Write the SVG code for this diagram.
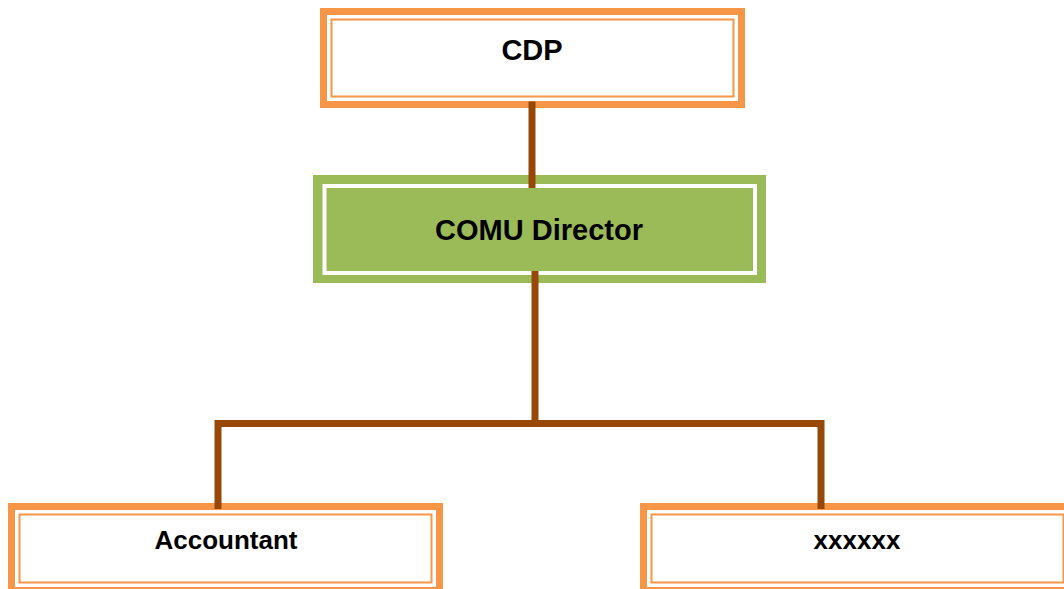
<svg xmlns="http://www.w3.org/2000/svg" width="1064" height="589" viewBox="0 0 1064 589">
<style>
.thick{fill:#FFFFFF;stroke:#F79646;stroke-width:7}
.thin{fill:none;stroke:#F79646;stroke-width:2}
.lbl{font-family:"Liberation Sans",Arial,sans-serif;font-weight:bold;fill:#000;text-anchor:middle}
.conn{fill:none;stroke:#974806;stroke-width:7;stroke-linejoin:miter;stroke-linecap:butt}
</style>
<rect width="1064" height="589" fill="#FFFFFF"/>
<g id="node-cdp">
<rect class="thick" x="323.5" y="11.5" width="418" height="93"/>
<rect class="thin" x="331.5" y="19.5" width="402" height="77"/>
<text class="lbl" x="532" y="60" font-size="29">CDP</text>
</g>
<g id="node-comu">
<rect x="313" y="175" width="453" height="108" fill="#9BBB59"/>
<rect x="324.5" y="186" width="430.5" height="87" fill="none" stroke="#FFFFFF" stroke-width="4"/>
<text class="lbl" x="539" y="240" font-size="29">COMU Director</text>
</g>
<g id="node-accountant">
<rect class="thick" x="11.5" y="506.5" width="428" height="84"/>
<rect class="thin" x="19.5" y="514.5" width="412" height="68"/>
<text class="lbl" x="226" y="549" font-size="26">Accountant</text>
</g>
<g id="node-xxxxxx">
<rect class="thick" x="643.5" y="506.5" width="428" height="84"/>
<rect class="thin" x="651.5" y="514.5" width="412" height="68"/>
<text class="lbl" x="857" y="549" font-size="26">xxxxxx</text>
</g>
<g id="connectors">
<path class="conn" d="M532 101.5 V188"/>
<path class="conn" d="M535 271 V423.5"/>
<path class="conn" d="M218 509 V423.5 H821 V509"/>
</g>
</svg>
